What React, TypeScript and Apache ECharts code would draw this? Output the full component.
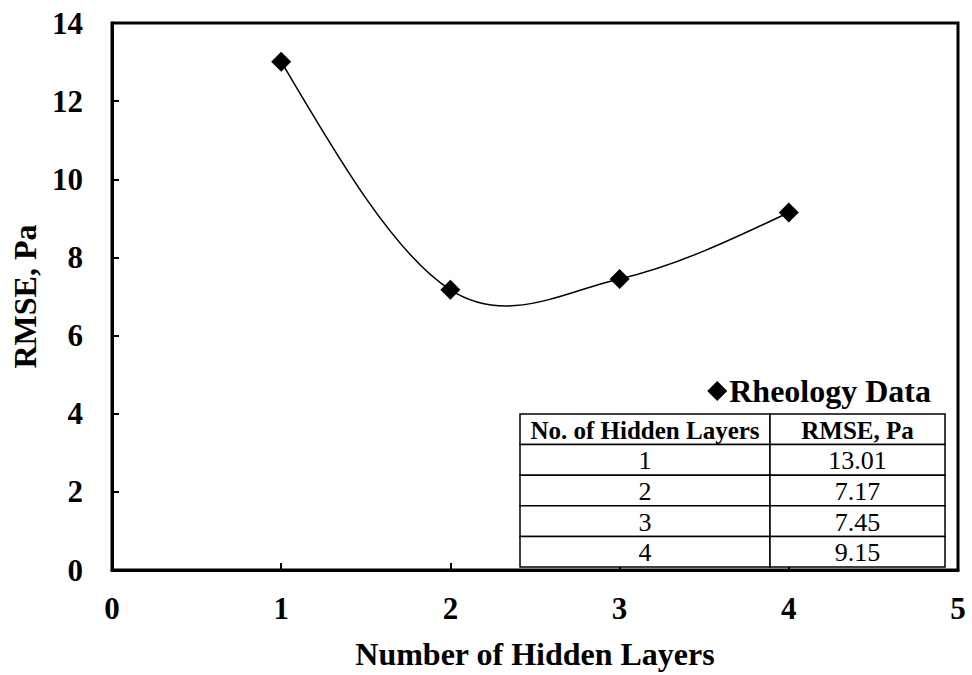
import React, { useEffect, useRef } from "react";
import * as echarts from "echarts";

const layers = [1, 2, 3, 4];
const rmse = [13.01, 7.17, 7.45, 9.15];
const xTicks = [0, 1, 2, 3, 4, 5];
const yTicks = [0, 2, 4, 6, 8, 10, 12, 14];
const tableHeader = ["No. of Hidden Layers", "RMSE, Pa"];
const seriesName = "Rheology Data";

const FONT = "Liberation Serif";

function buildTable() {
  const left = 520;
  const top = 414;
  const colW = [250, 175];
  const rowH = 30.6;
  const children: any[] = [];
  const rows = [tableHeader, ...layers.map((l, i) => [String(l), rmse[i].toFixed(2)])];
  rows.forEach((row, r) => {
    let x = left;
    row.forEach((cell, c) => {
      children.push({
        type: "rect",
        shape: { x, y: top + r * rowH, width: colW[c], height: rowH },
        style: { fill: "#fff", stroke: "#000", lineWidth: 1.5 },
        z: 10,
      });
      children.push({
        type: "text",
        x: x + colW[c] / 2,
        y: top + r * rowH + rowH / 2 + 1,
        style: {
          text: cell,
          fill: "#000",
          fontFamily: FONT,
          fontWeight: r === 0 ? "bold" : "normal",
          fontSize: r === 0 ? 25 : 26,
          align: "center",
          verticalAlign: "middle",
        },
        z: 11,
      });
      x += colW[c];
    });
  });
  return children;
}

export default function App() {
  const ref = useRef<HTMLDivElement>(null);
  useEffect(() => {
    if (!ref.current) return;
    const chart = echarts.init(ref.current, null, { renderer: "svg" });
    const pts = layers.map((l, i) => [l, rmse[i]]);
    const txt = { fontFamily: FONT, fontWeight: "bold" as const, fontSize: 32, color: "#000" };
    chart.setOption({
      animation: false,
      backgroundColor: "#fff",
      grid: {
        left: 112,
        top: 23,
        right: 14,
        bottom: 102,
        show: true,
        borderColor: "#000",
        borderWidth: 3,
        backgroundColor: "transparent",
      },
      legend: {
        right: 36,
        top: 370,
        data: [{ name: seriesName, icon: "diamond" }],
        itemWidth: 20,
        itemHeight: 20,
        itemGap: 2,
        textStyle: { ...txt, fontSize: 32, padding: [0, 0, 0, -3] },
      },
      xAxis: {
        type: "value",
        min: xTicks[0],
        max: xTicks[xTicks.length - 1],
        interval: 1,
        name: "Number of Hidden Layers",
        nameLocation: "middle",
        nameGap: 68,
        nameTextStyle: txt,
        axisLine: { show: true, lineStyle: { color: "#000", width: 3 } },
        axisTick: { show: true, inside: true, length: 7, lineStyle: { color: "#000", width: 2 } },
        axisLabel: { ...txt, fontSize: 31, margin: 23 },
        splitLine: { show: false },
      },
      yAxis: {
        type: "value",
        min: yTicks[0],
        max: yTicks[yTicks.length - 1],
        interval: 2,
        name: "RMSE, Pa",
        nameLocation: "middle",
        nameGap: 69,
        nameTextStyle: txt,
        axisLine: { show: true, lineStyle: { color: "#000", width: 3 } },
        axisTick: { show: true, inside: true, length: 7, lineStyle: { color: "#000", width: 2 } },
        axisLabel: { ...txt, fontSize: 31, margin: 29 },
        splitLine: { show: false },
      },
      series: [
        {
          type: "custom",
          name: "curve",
          data: pts,
          silent: true,
          z: 2,
          renderItem: (params: any, api: any) => {
            if (params.dataIndex !== 0) return null;
            const P = pts.map((p) => api.coord(p));
            const n = P.length;
            // interior control points (Catmull-Rom, tension 1/6)
            const segs: number[][][] = [];
            for (let i = 0; i < n - 1; i++) {
              const p0 = P[i - 1];
              const p1 = P[i];
              const p2 = P[i + 1];
              const p3 = P[i + 2];
              const c1 = p0
                ? [p1[0] + (p2[0] - p0[0]) / 6, p1[1] + (p2[1] - p0[1]) / 6]
                : null;
              const c2 = p3
                ? [p2[0] - (p3[0] - p1[0]) / 6, p2[1] - (p3[1] - p1[1]) / 6]
                : null;
              segs.push([c1 as any, c2 as any]);
            }
            // natural end conditions
            const s0 = segs[0];
            if (!s0[0] && s0[1]) s0[0] = [(P[0][0] + s0[1][0]) / 2, (P[0][1] + s0[1][1]) / 2];
            const sl = segs[n - 2];
            if (!sl[1] && sl[0]) sl[1] = [(P[n - 1][0] + sl[0][0]) / 2, (P[n - 1][1] + sl[0][1]) / 2];
            let d = `M${P[0][0]},${P[0][1]}`;
            for (let i = 0; i < n - 1; i++) {
              const [c1, c2] = segs[i];
              d += ` C${c1[0]},${c1[1]} ${c2[0]},${c2[1]} ${P[i + 1][0]},${P[i + 1][1]}`;
            }
            return {
              type: "path",
              shape: { pathData: d },
              style: { fill: "none", stroke: "#000", lineWidth: 1.5 },
            };
          },
        },
        {
          type: "scatter",
          name: seriesName,
          data: pts,
          symbol: "diamond",
          symbolSize: 20,
          itemStyle: { color: "#000", opacity: 1 },
          z: 3,
        },
      ],
      graphic: buildTable(),
    });
    return () => chart.dispose();
  }, []);
  return (
    <div
      ref={ref}
      style={{ position: "fixed", left: 0, top: 0, width: 972, height: 675 }}
    />
  );
}
